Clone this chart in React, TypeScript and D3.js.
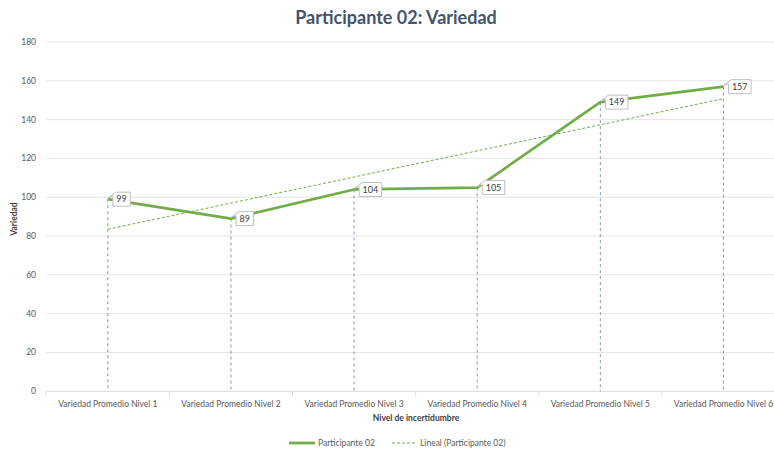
import React from "react";
import * as d3 from "d3";

const categories = [
  "Variedad Promedio Nivel 1",
  "Variedad Promedio Nivel 2",
  "Variedad Promedio Nivel 3",
  "Variedad Promedio Nivel 4",
  "Variedad Promedio Nivel 5",
  "Variedad Promedio Nivel 6",
];
const values = [99, 89, 104, 105, 149, 157];
const yTicks = [0, 20, 40, 60, 80, 100, 120, 140, 160, 180];
const title = "Participante 02: Variedad";
const yTitle = "Variedad";
const xTitle = "Nivel de incertidumbre";
const seriesName = "Participante 02";
const trendName = "Lineal (Participante 02)";

const W = 774;
const H = 452;
const FONT = "Lato, 'Open Sans', sans-serif";
const GREEN = "#70AD47";

export default function App() {
  const x = d3.scaleBand<string>().domain(categories).range([46.3, 785]).paddingInner(0).paddingOuter(0);
  const y = d3.scaleLinear().domain([0, 180]).range([391.3, 42]);
  const cx = (c: string) => (x(c) as number) + x.bandwidth() / 2;

  // linear trend (least squares on index 1..n)
  const n = values.length;
  const xs = values.map((_, i) => i + 1);
  const mx = d3.mean(xs) as number;
  const my = d3.mean(values) as number;
  const slope =
    d3.sum(xs.map((xi, i) => (xi - mx) * (values[i] - my))) /
    d3.sum(xs.map((xi) => (xi - mx) ** 2));
  const icpt = my - slope * mx;
  const trend = xs.map((xi) => icpt + slope * xi);

  const line = d3
    .line<number>()
    .x((_, i) => cx(categories[i]))
    .y((d) => y(d));

  const boundaries = d3.range(n + 1).map((i) => 46.3 + i * x.bandwidth());

  return (
    <svg
      width={W}
      height={H}
      style={{ position: "absolute", left: 0, top: 0, background: "#fff" }}
      fontFamily={FONT}
    >
      <rect width={W} height={H} fill="#fff" />
      <text x={396} y={24} textAnchor="middle" fontSize={18} fontWeight={700} fill="#44546A">
        {title}
      </text>
      {yTicks.map((t) => (
        <g key={t}>
          {t > 0 && (
            <line x1={46.3} x2={785} y1={y(t)} y2={y(t)} stroke="#E4E4E4" strokeWidth={1} />
          )}
          <text x={36} y={y(t) + 3} textAnchor="end" fontSize={8.5} fill="#595959">
            {t}
          </text>
        </g>
      ))}
      <line x1={46.3} x2={785} y1={y(0)} y2={y(0)} stroke="#D9D9D9" strokeWidth={1} />
      {boundaries.map((b, i) => (
        <line key={i} x1={b} x2={b} y1={y(0)} y2={y(0) + 4} stroke="#D9D9D9" strokeWidth={1} />
      ))}
      {categories.map((c) => (
        <text key={c} x={cx(c)} y={407} textAnchor="middle" fontSize={8.5} fill="#595959">
          {c}
        </text>
      ))}
      <text x={416} y={421} textAnchor="middle" fontSize={8.5} fontWeight={700} fill="#404040">
        {xTitle}
      </text>
      <text
        transform={`translate(17, 219) rotate(-90)`}
        textAnchor="middle"
        fontSize={8.5}
        fontWeight={700}
        fill="#404040"
      >
        {yTitle}
      </text>
      {/* drop lines */}
      {values.map((v, i) => (
        <line
          key={i}
          x1={cx(categories[i])}
          x2={cx(categories[i])}
          y1={y(v)}
          y2={y(0)}
          stroke="#8497B0"
          strokeWidth={1}
          strokeDasharray="3,3"
        />
      ))}
      <path d={line(trend) || ""} fill="none" stroke={GREEN} strokeWidth={1} strokeDasharray="3,2" />
      <path d={line(values) || ""} fill="none" stroke={GREEN} strokeWidth={2.75} strokeLinejoin="round" />
      {values.map((v, i) => {
        const px = cx(categories[i]);
        const py = y(v);
        const label = String(v);
        const w = label.length * 5.2 + 7;
        const bx = px + 5;
        const top = py - 7;
        const bot = py + 7;
        const d = `M${px},${py - 1} L${bx + 3},${top} L${bx + w},${top} L${bx + w},${bot} L${bx},${bot} L${bx},${top + 4} Z`;
        return (
          <g key={i}>
            <path d={d} fill="#fff" stroke="#BFBFBF" strokeWidth={1} />
            <text x={bx + w / 2} y={py + 3.2} textAnchor="middle" fontSize={9} fill="#404040">
              {label}
            </text>
          </g>
        );
      })}
      {/* legend */}
      <line x1={289} x2={315} y1={443} y2={443} stroke={GREEN} strokeWidth={2.75} />
      <text x={318} y={446} fontSize={8.5} fill="#595959">
        {seriesName}
      </text>
      <line x1={392} x2={417} y1={443} y2={443} stroke={GREEN} strokeWidth={1} strokeDasharray="3,2" />
      <text x={420} y={446} fontSize={8.5} fill="#595959">
        {trendName}
      </text>
    </svg>
  );
}
